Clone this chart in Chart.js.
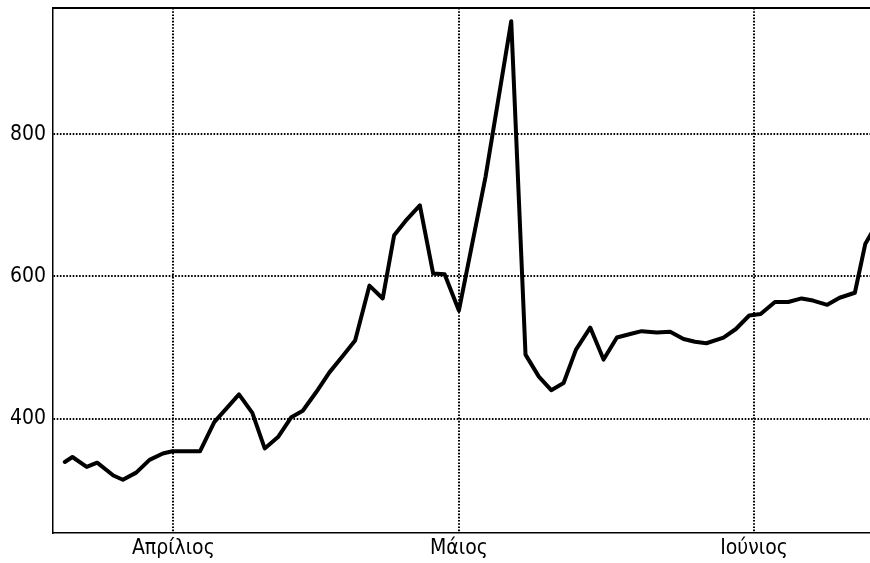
<!DOCTYPE html>
<html>
<head>
<meta charset="utf-8">
<script src="https://cdn.jsdelivr.net/npm/chart.js@4.4.0/dist/chart.umd.min.js"></script>
<style>
  html, body { margin: 0; padding: 0; background: #ffffff; }
  #wrap { width: 870px; height: 563px; }
</style>
</head>
<body>
<div id="wrap"><canvas id="c" width="870" height="563"></canvas></div>
<script>
// Day offsets from 1 April (x) and values (y)
const days = [-11.4, -10.6, -9.1, -8.0, -6.3, -5.3, -3.9, -2.5, -1.1, -0.1,
  1.3, 2.8, 4.3, 6.9, 8.3, 9.6, 11.0, 12.4, 13.6, 15.0,
  16.4, 17.8, 19.1, 20.6, 22.0, 23.2, 24.4, 25.9, 27.3, 28.5,
  30.0, 32.8, 35.5, 37.0, 38.4, 39.7, 41.0, 42.3, 43.8, 45.2,
  46.6, 48.0, 49.2, 50.8, 52.2, 53.6, 54.8, 56.0, 57.8, 59.1,
  60.5, 61.7, 63.2, 64.6, 66.0, 67.2, 68.7, 70.0, 71.6, 72.7, 73.4];
const values = [339, 346, 332, 338, 320, 314, 324, 342, 351, 354,
  354, 354, 395, 434, 408, 358, 374, 402, 411, 437,
  465, 488, 510, 587, 569, 658, 678, 700, 604, 603,
  552, 740, 959, 490, 459, 440, 450, 497, 528, 483,
  514, 519, 523, 521, 522, 512, 508, 506, 514, 526,
  545, 547, 564, 564, 569, 566, 560, 570, 577, 646, 662];
const monthTicks = [0, 30, 61];
const monthLabels = ['Απρίλιος', 'Μάιος', 'Ιούνιος'];
const yTicks = [400, 600, 800];

const points = days.map((d, i) => ({ x: d, y: values[i] }));

const topFrame = {
  id: 'topFrame',
  afterDraw(chart) {
    const { ctx, chartArea } = chart;
    ctx.save();
    ctx.strokeStyle = '#000';
    ctx.lineWidth = 2;
    ctx.beginPath();
    ctx.moveTo(chartArea.left, chartArea.top);
    ctx.lineTo(chartArea.right, chartArea.top);
    ctx.stroke();
    ctx.restore();
  }
};

const FONT = { family: '"DejaVu Sans Condensed", "DejaVu Sans", sans-serif', size: 21 };

new Chart(document.getElementById('c'), {
  type: 'line',
  data: {
    datasets: [{
      data: points,
      borderColor: '#000',
      borderWidth: 4,
      pointRadius: 0,
      tension: 0,
      fill: false,
      borderJoinStyle: 'round',
      borderCapStyle: 'round'
    }]
  },
  options: {
    responsive: false,
    animation: false,
    events: [],
    layout: { padding: { top: 8, left: 0, right: 0, bottom: 0 } },
    plugins: { legend: { display: false }, tooltip: { enabled: false }, title: { display: false } },
    scales: {
      x: {
        type: 'linear',
        min: -12.64,
        max: 73.19,
        afterBuildTicks: (s) => { s.ticks = monthTicks.map(v => ({ value: v })); },
        afterFit: (s) => { s.height = 30; s.paddingLeft = 0; s.paddingRight = 0; },
        ticks: {
          autoSkip: false,
          maxRotation: 0,
          color: '#000',
          font: FONT,
          padding: 3,
          callback: (v, i) => monthLabels[i]
        },
        grid: { color: '#000', lineWidth: 2, drawTicks: false },
        border: { display: true, color: '#000', width: 1.5, dash: [1.6, 1.6] }
      },
      y: {
        type: 'linear',
        min: 239.1,
        max: 977.5,
        afterBuildTicks: (s) => { s.ticks = yTicks.map(v => ({ value: v })); },
        afterFit: (s) => { s.width = 53; s.paddingTop = 0; s.paddingBottom = 0; },
        ticks: {
          color: '#000',
          font: FONT,
          padding: 7,
          callback: (v) => String(v)
        },
        grid: { color: '#000', lineWidth: 2, drawTicks: false },
        border: { display: true, color: '#000', width: 1.5, dash: [1.6, 1.6] }
      }
    }
  },
  plugins: [topFrame]
});
</script>
</body>
</html>
